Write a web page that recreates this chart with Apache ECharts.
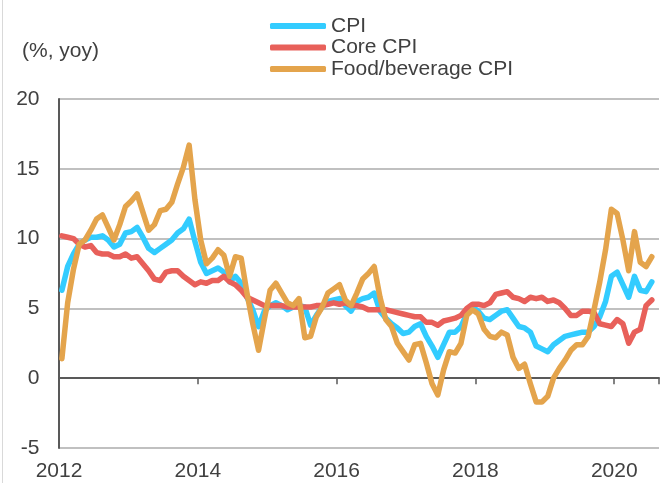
<!DOCTYPE html>
<html>
<head>
<meta charset="utf-8">
<script src="https://cdn.jsdelivr.net/npm/echarts@6/dist/echarts.min.js"></script>
<style>
  html, body { margin: 0; padding: 0; background: #fff; }
  #chart { width: 662px; height: 483px; }
</style>
</head>
<body>
<div id="chart"></div>
<script>
// Monthly year-on-year inflation, January 2012 onwards (%)
const startYear = 2012;
const startMonth = 1;

const cpi = [
  6.3, 8.0, 8.9, 9.6, 9.9, 10.1, 10.1, 10.2, 9.9, 9.4, 9.6, 10.4,
  10.5, 10.8, 10.1, 9.3, 9.0, 9.3, 9.6, 9.9, 10.4, 10.7, 11.4, 9.8,
  8.3, 7.5, 7.7, 7.9, 7.6, 6.9, 7.3, 6.8, 5.8, 4.9, 3.7, 4.8,
  5.2, 5.4, 5.2, 4.9, 5.1, 5.2, 5.1, 3.8, 4.5, 5.1, 5.5, 5.6,
  5.7, 5.2, 4.8, 5.5, 5.7, 5.8, 6.1, 4.8, 4.3, 3.9, 3.6, 3.2,
  3.3, 3.7, 3.9, 3.0, 2.3, 1.5, 2.4, 3.3, 3.3, 3.7, 4.6, 5.1,
  4.8, 4.3, 4.2, 4.5, 4.8, 4.9, 4.3, 3.7, 3.6, 3.3, 2.3, 2.1,
  1.9, 2.4, 2.7, 3.0, 3.1, 3.2, 3.3, 3.3, 3.7, 4.4, 5.5, 7.3,
  7.6, 6.7, 5.8, 7.3, 6.3, 6.2, 6.9
];

const coreCpi = [
  10.2, 10.1, 10.0, 9.6, 9.4, 9.5, 9.0, 8.9, 8.9, 8.7, 8.7, 8.9,
  8.6, 8.7, 8.2, 7.7, 7.1, 7.0, 7.6, 7.7, 7.7, 7.3, 7.0, 6.7,
  6.9, 6.8, 7.0, 7.0, 7.3, 6.9, 6.7, 6.3, 5.8, 5.6, 5.4, 5.2,
  5.2, 5.2, 5.2, 5.1, 5.1, 5.1, 5.1, 5.1, 5.2, 5.2, 5.3, 5.4,
  5.3, 5.4, 5.2, 5.2, 5.1, 4.9, 4.9, 4.9, 4.9, 4.8, 4.7, 4.6,
  4.5, 4.4, 4.4, 4.0, 4.0, 3.8, 4.1, 4.2, 4.3, 4.5, 5.0, 5.3,
  5.3, 5.2, 5.4, 6.0, 6.1, 6.2, 5.8, 5.7, 5.5, 5.8, 5.7, 5.8,
  5.5, 5.6, 5.4, 5.0, 4.5, 4.5, 4.8, 4.8, 4.7, 3.9, 3.8, 3.7,
  4.2, 3.9, 2.5, 3.3, 3.5, 5.2, 5.6
];

const foodCpi = [
  1.4, 5.4, 7.8, 9.6, 9.9, 10.6, 11.4, 11.7, 10.8, 9.9, 11.0, 12.3,
  12.7, 13.2, 11.9, 10.6, 11.0, 12.0, 12.1, 12.6, 13.9, 15.1, 16.7, 12.8,
  9.9, 8.2, 8.6, 9.2, 8.8, 7.3, 8.7, 8.6, 6.1, 3.9, 2.0, 4.2,
  6.3, 6.8, 6.1, 5.4, 5.2, 5.7, 2.9, 3.0, 4.4, 5.1, 6.1, 6.4,
  6.7, 5.6, 5.2, 6.1, 7.1, 7.5, 8.0, 5.8, 4.2, 3.7, 2.5, 1.9,
  1.3, 2.4, 2.5, 1.1, -0.4, -1.2, 0.6, 1.9, 1.8, 2.5, 4.5, 4.9,
  4.6, 3.5, 3.0, 2.9, 3.3, 3.1, 1.5, 0.7, 1.0, -0.4, -1.7, -1.7,
  -1.3, 0.0, 0.7, 1.3, 2.0, 2.4, 2.4, 3.0, 4.9, 6.9, 9.2, 12.1,
  11.8, 9.9, 7.7, 10.5, 8.3, 8.0, 8.7
];

const seriesNames = ['CPI', 'Core CPI', 'Food/beverage CPI'];
const seriesColors = ['#33ccff', '#e8605a', '#e4a44c'];
const yTicks = { min: -5, max: 20, step: 5 };
const xTicks = { min: 2012, max: 2020.645, step: 2 };

// Each monthly observation sits at the middle of its month on a decimal-year axis
function toPoints(values) {
  return values.map((v, i) => {
    const monthIndex = (startMonth - 1) + i;
    return [startYear + (monthIndex + 0.5) / 12, v];
  });
}

const FONT = "'Liberation Sans', Arial, sans-serif";
const TEXT = '#404040';

const chart = echarts.init(document.getElementById('chart'), null, { renderer: 'canvas' });

const lineSeries = [cpi, coreCpi, foodCpi].map((vals, k) => ({
  name: seriesNames[k],
  type: 'line',
  xAxisIndex: 0,
  data: toPoints(vals),
  showSymbol: false,
  symbol: 'none',
  smooth: false,
  color: seriesColors[k],
  lineStyle: { width: 5.5, color: seriesColors[k], cap: 'round', join: 'round' },
  z: 3 + k,
  animation: false
}));

chart.setOption({
  animation: false,
  backgroundColor: '#fff',
  title: {
    text: '(%, yoy)',
    left: 22,
    top: 41,
    padding: 0,
    textStyle: { fontFamily: FONT, fontSize: 21, fontWeight: 'normal', color: TEXT }
  },
  legend: {
    data: seriesNames,
    orient: 'vertical',
    left: 270,
    top: 15.5,
    padding: 0,
    itemWidth: 56,
    itemHeight: 6,
    itemGap: 0.5,
    icon: 'roundRect',
    textStyle: { fontFamily: FONT, fontSize: 21, color: TEXT, lineHeight: 21 }
  },
  grid: { left: 59, right: 0, top: 99, bottom: 35, containLabel: false },
  xAxis: [
    {
      // year labels along the bottom edge
      type: 'value',
      min: xTicks.min,
      max: xTicks.max,
      interval: xTicks.step,
      axisLine: { show: false, onZero: false },
      axisTick: { show: false },
      splitLine: { show: false },
      axisLabel: {
        fontFamily: FONT, fontSize: 21, color: TEXT, margin: 13,
        formatter: v => (Number.isInteger(v) ? String(v) : '')
      }
    },
    {
      // dark baseline with tick marks at the zero level
      type: 'value',
      position: 'bottom',
      min: xTicks.min,
      max: xTicks.max,
      interval: xTicks.step,
      axisLine: { show: true, onZero: true, lineStyle: { color: '#595959', width: 2 } },
      axisTick: { show: true, length: 6, inside: false, lineStyle: { color: '#595959', width: 1.5 } },
      axisLabel: { show: false },
      splitLine: { show: false }
    }
  ],
  yAxis: {
    type: 'value',
    min: yTicks.min,
    max: yTicks.max,
    interval: yTicks.step,
    axisLine: { show: true, onZero: false, lineStyle: { color: '#595959', width: 2 } },
    axisTick: { show: false },
    axisLabel: { fontFamily: FONT, fontSize: 21, color: TEXT, margin: 19.5 },
    splitLine: { show: true, lineStyle: { color: '#c0c0c0', width: 2 } }
  },
  graphic: [
    {
      type: 'line',
      shape: { x1: 2.5, y1: 0, x2: 2.5, y2: 483 },
      style: { stroke: '#d9d9d9', lineWidth: 1 },
      silent: true
    }
  ],
  series: lineSeries
});
</script>
</body>
</html>
